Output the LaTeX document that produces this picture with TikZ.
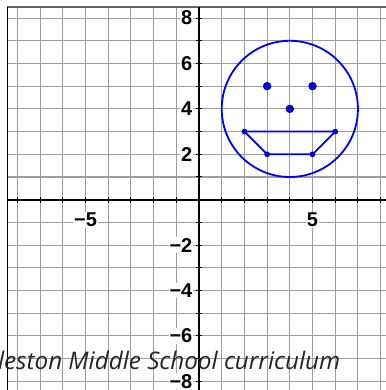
\documentclass[tikz,border=0pt]{standalone}
\usepackage{fontspec}
\setmainfont{Liberation Sans}
\newfontfamily\wmfont{Open Sans}
\begin{document}
\begin{tikzpicture}[x=22.7pt,y=22.7pt,
  gridline/.style={draw=black!38, line width=1.1pt},
  axisline/.style={draw=black, line width=1.9pt},
  tickline/.style={draw=black, line width=1pt},
  lbl/.style={font=\fontsize{20}{20}\selectfont\bfseries, fill=white, inner sep=0.8pt},
  smiley/.style={draw=blue, line width=1.8pt},
  bigdot/.style={circle, fill=blue, draw=blue!45!black, line width=0.8pt, minimum size=7.5pt, inner sep=0pt},
  smalldot/.style={circle, fill=blue, draw=blue!45!black, line width=0.6pt, minimum size=5pt, inner sep=0pt}]
\useasboundingbox (-8.767,-8.383) rectangle (8.194,8.797);
\fill[white] (-8.767,-8.383) rectangle (8.194,8.797);
% grid
\foreach \i in {-8,...,8} {
  \draw[gridline] (\i,-8.6) -- (\i,8.49);
  \draw[gridline] (-8.45,\i) -- (8.4,\i);
}
% frame
\coordinate (tl) at (-8.45,8.49);
\coordinate (tr) at (8.4,8.49);
\coordinate (bl) at (-8.45,-8.6);
\draw[draw=black!60, line width=1.2pt] (tl) -- (tr);
\draw[draw=black, line width=1.3pt] (tl) -- (bl);
% axes
\coordinate (xl) at (-8.45,0);
\coordinate (xr) at (8.4,0);
\coordinate (yb) at (0,-8.6);
\coordinate (yt) at (0,8.49);
\draw[axisline] (xl) -- (xr);
\draw[axisline] (yb) -- (yt);
\foreach \i in {-8,...,-1,1,2,...,8} {
  \draw[tickline] (\i,-0.14) -- (\i,0.14);
  \draw[tickline] (-0.14,\i) -- (0.14,\i);
}
% labels
\foreach \v/\t in {8/8,6/6,4/4,2/2,-2/−2,-4/−4,-6/−6,-8/−8} {
  \node[lbl, anchor=east] (ly\v) at (-0.25,\v) {\t};
}
\node[lbl] (lxm5) at (-5,-0.9) {−5};
\node[lbl] (lxp5) at (5,-0.9) {5};
% smiley
\coordinate (c) at (4,4);
\draw[smiley] (c) circle (3);
\coordinate (m1) at (2,3);
\coordinate (m2) at (6,3);
\coordinate (m3) at (5,2);
\coordinate (m4) at (3,2);
\draw[smiley, line join=round] (m1) -- (m2) -- (m3) -- (m4) -- cycle;
\foreach \p in {m1,m2,m3,m4} { \node[smalldot] (d\p) at (\p) {}; }
\node[bigdot] (eyeL) at (3,5) {};
\node[bigdot] (eyeR) at (5,5) {};
\node[bigdot] (nose) at (c) {};
% watermark
\node[anchor=base west, inner sep=0pt, text=black!85, font=\wmfont\itshape\fontsize{24.2}{24.2}\selectfont] (wm) at (-8.86,-7.5) {leston Middle School curriculum};
\end{tikzpicture}
\end{document}
